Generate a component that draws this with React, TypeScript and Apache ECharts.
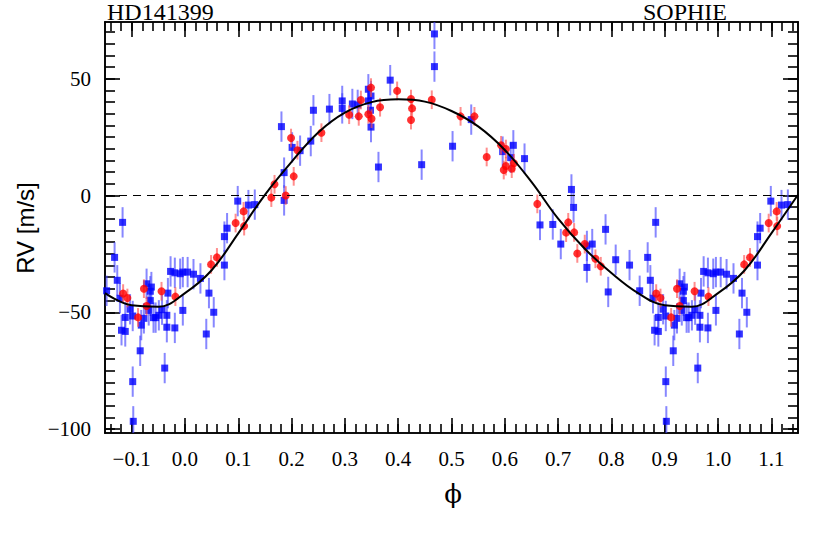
import React, { useEffect, useRef } from "react";
import * as echarts from "echarts";

// ---- axis ranges and ticks ----
const X_MIN = -0.15;
const X_MAX = 1.15;
const Y_MIN = -101.7;
const Y_MAX = 74.3;
const xMajorTicks = [-0.1, 0.0, 0.1, 0.2, 0.3, 0.4, 0.5, 0.6, 0.7, 0.8, 0.9, 1.0, 1.1];
const yMajorTicks = [-100, -50, 0, 50];
const xMinorStep = 0.02;
const yMinorStep = 5;

// ---- data (orbital phase in [0,1), RV in m/s) ----
const bluePhase = [
  0.005, 0.016, 0.029, 0.040, 0.045, 0.054, 0.074, 0.074, 0.079, 0.099, 0.119, 0.131,
  0.181, 0.186, 0.186, 0.201, 0.216, 0.236, 0.241, 0.271, 0.295, 0.295, 0.314, 0.324,
  0.344, 0.344, 0.349, 0.348, 0.349, 0.363, 0.385, 0.444, 0.468, 0.468, 0.502, 0.537,
  0.596, 0.611, 0.616, 0.637, 0.666, 0.690, 0.705, 0.725, 0.729, 0.754, 0.754, 0.764,
  0.789, 0.794, 0.808, 0.834, 0.853, 0.868, 0.873, 0.878, 0.883, 0.881, 0.888, 0.888,
  0.897, 0.902, 0.902, 0.903, 0.916, 0.918, 0.923, 0.928, 0.932, 0.935, 0.935, 0.937,
  0.941, 0.945, 0.951, 0.957, 0.962, 0.966, 0.966, 0.968, 0.973, 0.981, 0.981, 0.991,
  0.996, 0.996,
];
const blueRV = [
  -32.8, -33.7, -35.5, -59.3, -41.8, -50.0, -29.8, -17.6, -14.0, -2.4, -4.1, -3.9,
  29.5, 9.8, -2.1, 20.6, 19.2, 23.3, 36.5, 37.0, 40.5, 37.3, 39.2, 38.8,
  45.5, 40.5, 42.6, 36.5, 29.3, 12.2, 49.4, 13.2, 69.2, 55.2, 21.1, 32.5,
  18.8, 16.2, 21.5, 15.8, -12.6, -12.4, -20.8, 2.6, -5.1, -21.6, -30.8, -20.8,
  -14.5, -41.3, -27.5, -29.8, -40.8, -26.5, -36.3, -44.0, -11.5, -57.7, -58.2, -52.2,
  -48.7, -51.6, -79.7, -96.7, -66.5, -55.5, -52.6, -37.8, -49.2, -45.0, -41.0, -39.2,
  -52.3, -52.3, -51.3, -48.9, -73.9, -56.4, -51.3, -41.8, -32.5, -33.1, -56.7, -33.5,
  -32.8, -49.2,
];
const blueErr = 6.5;

const redPhase = [
  0.049, 0.060, 0.095, 0.110, 0.111, 0.162, 0.168, 0.189, 0.199, 0.204, 0.211, 0.256,
  0.308, 0.326, 0.330, 0.344, 0.349, 0.350, 0.366, 0.398, 0.424, 0.426, 0.424, 0.463,
  0.517, 0.543, 0.566, 0.593, 0.602, 0.598, 0.602, 0.613, 0.617, 0.661, 0.715, 0.719,
  0.730, 0.736, 0.750, 0.770, 0.780, 0.884, 0.892, 0.912, 0.923, 0.928, 0.956, 0.982,
];
const redRV = [
  -29.5, -26.5, -11.8, -6.8, -13.1, -0.9, 4.8, 0.0, 24.6, 8.2, 19.4, 26.9,
  34.6, 33.9, 40.9, 34.8, 46.2, 32.9, 37.8, 44.8, 41.3, 37.3, 32.3, 41.0,
  33.9, 33.9, 16.5, 21.5, 19.9, 10.9, 12.6, 11.5, 13.8, -3.6, -15.9, -11.5,
  -15.8, -24.8, -20.8, -27.1, -30.3, -42.0, -43.9, -52.2, -39.9, -47.3, -41.0, -43.3,
];
const redErr = 4;

// Keplerian model
const modelPhase = [
  0.0, 0.05, 0.1, 0.15, 0.2, 0.25, 0.3, 0.35, 0.4, 0.45,
  0.5, 0.55, 0.6, 0.65, 0.7, 0.75, 0.8, 0.85, 0.9, 0.95,
];
const modelRV = [
  -41.8, -32.0, -16.2, 0.3, 14.4, 27.0, 35.5, 40.0, 41.2, 40.2,
  36.2, 29.6, 19.5, 5.8, -9.9, -22.8, -33.2, -41.8, -47.0, -47.6,
];

const EPS = 1e-9;
function unfold(phase: number[], rv: number[], err?: number): number[][] {
  const out: number[][] = [];
  phase.forEach((p, i) => {
    const row = (x: number) => (err === undefined ? [x, rv[i]] : [x, rv[i], err]);
    out.push(row(p));
    if (p + 1 <= X_MAX + EPS) out.push(row(p + 1));
    if (p - 1 >= X_MIN - EPS) out.push(row(p - 1));
  });
  return out;
}

function range(a: number, b: number, step: number): number[] {
  const out: number[] = [];
  const n = Math.round((b - a) / step);
  for (let i = 0; i <= n; i++) out.push(Math.round((a + i * step) * 1000) / 1000);
  return out;
}

const SERIF = "'Liberation Serif', 'Times New Roman', serif";
const fmtMinus = (s: string) => s.replace("-", "\u2212");

export default function App() {
  const ref = useRef<HTMLDivElement>(null);
  useEffect(() => {
    document.body.style.margin = "0";
    if (!ref.current) return;
    const chart = echarts.init(ref.current, undefined, { renderer: "svg" });

    const xMinor = range(-0.14, 1.14, xMinorStep);
    const yMinor = range(-100, 70, yMinorStep);

    const lineStyle = { color: "#000", width: 1.6 };
    const mkX = (pos: string, ticks: number[], len: number, labels: boolean) => ({
      type: "value",
      position: pos,
      min: X_MIN,
      max: X_MAX,
      axisLine: { show: true, onZero: false, lineStyle },
      axisTick: { show: true, inside: true, length: len, customValues: ticks, lineStyle },
      axisLabel: labels
        ? {
            show: true,
            customValues: ticks,
            formatter: (v: number) => fmtMinus(v.toFixed(1)),
            margin: 15,
            fontFamily: SERIF,
            fontSize: 21,
            color: "#000",
          }
        : { show: false },
      splitLine: { show: false },
    });
    const mkY = (pos: string, ticks: number[], len: number, labels: boolean) => ({
      type: "value",
      position: pos,
      min: Y_MIN,
      max: Y_MAX,
      axisLine: { show: true, onZero: false, lineStyle },
      axisTick: { show: true, inside: true, length: len, customValues: ticks, lineStyle },
      axisLabel: labels
        ? {
            show: true,
            customValues: ticks,
            formatter: (v: number) => fmtMinus(String(v)),
            margin: 14,
            fontFamily: SERIF,
            fontSize: 21,
            color: "#000",
          }
        : { show: false },
      splitLine: { show: false },
    });

    const errRender = (color: string) => (params: any, api: any) => {
      const x = api.value(0);
      const y = api.value(1);
      const e = api.value(2);
      const lo = Math.max(Y_MIN, y - e);
      const hi = Math.min(Y_MAX, y + e);
      const p1 = api.coord([x, lo]);
      const p2 = api.coord([x, hi]);
      return {
        type: "line",
        shape: { x1: p1[0], y1: p1[1], x2: p2[0], y2: p2[1] },
        style: { stroke: color, lineWidth: 2 },
      };
    };

    const modelData = unfold(modelPhase, modelRV).sort((a, b) => a[0] - b[0]);

    chart.setOption({
      animation: false,
      grid: { left: 105, right: 33, top: 22, bottom: 106, containLabel: false },
      xAxis: [
        mkX("bottom", xMajorTicks, 15, true),
        mkX("bottom", xMinor, 9, false),
        mkX("top", xMajorTicks, 15, false),
        mkX("top", xMinor, 9, false),
      ],
      yAxis: [
        mkY("left", yMajorTicks, 15, true),
        mkY("left", yMinor, 10, false),
        mkY("right", yMajorTicks, 15, false),
        mkY("right", yMinor, 10, false),
      ],
      graphic: [
        {
          type: "text",
          left: 107,
          top: 0,
          style: { text: "HD141399", font: `24px ${SERIF}`, fill: "#000" },
        },
        {
          type: "text",
          left: 643,
          top: 0,
          style: { text: "SOPHIE", font: `24px ${SERIF}`, fill: "#000" },
        },
        {
          type: "text",
          x: 453,
          y: 494,
          style: {
            text: "\u03D5",
            font: `26px 'DejaVu Serif', ${SERIF}`,
            fill: "#000",
            align: "center",
            verticalAlign: "middle",
          },
        },
        {
          type: "text",
          x: 25,
          y: 228,
          rotation: Math.PI / 2,
          style: {
            text: "RV [m/s]",
            font: "24px 'Liberation Sans', Arial, sans-serif",
            fill: "#000",
            align: "center",
            verticalAlign: "middle",
          },
        },
      ],
      series: [
        {
          type: "custom",
          renderItem: errRender("rgba(70,70,255,0.65)"),
          data: unfold(bluePhase, blueRV, blueErr),
          encode: { x: 0, y: 1 },
          z: 1,
        },
        {
          type: "scatter",
          symbol: "rect",
          symbolSize: 7,
          itemStyle: { color: "#0000ff" },
          data: unfold(bluePhase, blueRV),
          z: 2,
        },
        {
          type: "custom",
          renderItem: errRender("rgba(255,80,80,0.65)"),
          data: unfold(redPhase, redRV, redErr),
          encode: { x: 0, y: 1 },
          z: 3,
        },
        {
          type: "scatter",
          symbol: "circle",
          symbolSize: 8,
          itemStyle: { color: "#ff0000" },
          data: unfold(redPhase, redRV),
          z: 4,
        },
        {
          type: "line",
          data: [[X_MIN, 0], [X_MAX, 0]],
          symbol: "none",
          lineStyle: { color: "#000", width: 1, type: [8, 6] },
          z: 5,
        },
        {
          type: "line",
          data: modelData,
          symbol: "none",
          smooth: 0.4,
          lineStyle: { color: "#000", width: 2 },
          z: 6,
        },
      ],
    });
    return () => chart.dispose();
  }, []);
  return <div ref={ref} style={{ width: 831, height: 539 }} />;
}
